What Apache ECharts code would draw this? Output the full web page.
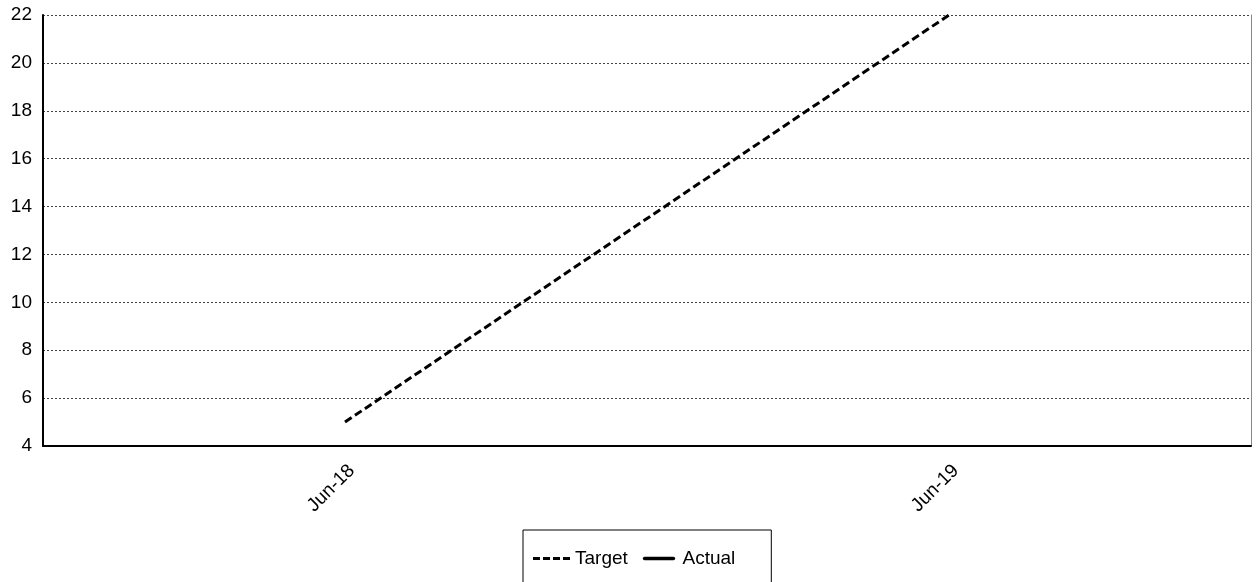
<!DOCTYPE html>
<html><head><meta charset="utf-8">
<script src="https://cdn.jsdelivr.net/npm/echarts@6/dist/echarts.min.js"></script>
<style>html,body{margin:0;padding:0;background:#fff}#c{width:1257px;height:582px}</style>
</head><body><div id="c"></div>
<script>
const categories = ['Jun-18', 'Jun-19'];
const targetValues = [5, 22];
const actualValues = [null, null];
const yTicks = {min: 4, max: 22, interval: 2};

const chart = echarts.init(document.getElementById('c'), null, {renderer: 'canvas'});
const font = 'Liberation Sans, Arial, sans-serif';
const dashIcon = 'path://M0,0h7v3h-7z M10,0h7v3h-7z M20,0h7v3h-7z M30,0h7v3h-7z';
const solidIcon = 'path://M2,0h33a2,2 0 0 1 0,4h-33a2,2 0 0 1 0,-4z';
chart.setOption({
  animation: false,
  backgroundColor: '#fff',
  grid: {left: 43, right: 6, top: 15, bottom: 136},
  legend: {
    top: 530, left: 523,
    padding: [19, 36, 40, 10],
    borderColor: '#000', borderWidth: 1,
    itemWidth: 37, itemHeight: 3.5, itemGap: 15,
    textStyle: {fontFamily: font, fontSize: 19, color: '#000'},
    data: [{name: 'Target', icon: dashIcon}, {name: 'Actual', icon: solidIcon}]
  },
  xAxis: {
    type: 'category', data: categories, boundaryGap: true,
    axisLine: {lineStyle: {color: '#000', width: 2}},
    axisTick: {show: false},
    axisLabel: {rotate: 45, fontFamily: font, fontSize: 19, color: '#000', margin: 15, verticalAlign: 'top'}
  },
  yAxis: [{
    type: 'value', min: yTicks.min, max: yTicks.max, interval: yTicks.interval,
    axisLine: {show: true, lineStyle: {color: '#000', width: 2}},
    axisTick: {show: false},
    axisLabel: {fontFamily: font, fontSize: 19, color: '#000', margin: 11},
    splitLine: {lineStyle: {color: '#444', width: 1, type: [2, 2]}}
  }, {
    type: 'value', position: 'right', min: yTicks.min, max: yTicks.max, interval: yTicks.interval,
    axisLine: {show: true, lineStyle: {color: '#888', width: 1}},
    axisTick: {show: false}, axisLabel: {show: false}, splitLine: {show: false}
  }],
  series: [{
    name: 'Target', type: 'line', data: targetValues, symbol: 'none',
    lineStyle: {color: '#000', width: 3, type: [8, 4]},
    itemStyle: {color: '#000'}
  }, {
    name: 'Actual', type: 'line', data: actualValues, symbol: 'none',
    lineStyle: {color: '#000', width: 4},
    itemStyle: {color: '#000'}
  }]
});
</script></body></html>
